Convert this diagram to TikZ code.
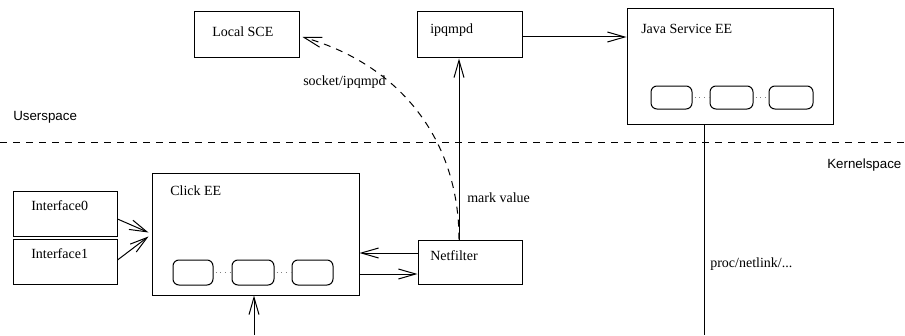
\documentclass[tikz,border=0pt]{standalone}
\usepackage{fontspec}
\setmainfont{Liberation Serif}
\newfontfamily\zonefont{Liberation Sans}
\usetikzlibrary{arrows.meta,calc,fit}

\begin{document}
\begin{tikzpicture}[x=0.75pt,y=-0.75pt,
  box/.style={draw, line width=0.75pt, inner sep=0pt},
  unit/.style={draw, line width=0.75pt, rounded corners=4.5pt, inner sep=0pt},
  lbl/.style={anchor=base west, inner sep=0pt, font=\fontsize{10.5}{12}\selectfont},
  zone/.style={anchor=base west, inner sep=0pt, font=\zonefont\fontsize{10}{12}\selectfont},
  arr/.style={line width=0.75pt, -{Straight Barb[length=13pt,width=7.5pt]}},
  link/.style={line width=0.75pt},
  sep/.style={line width=0.75pt, dash pattern=on 5.25pt off 4.5pt},
  gap/.style={line width=0.7pt, gray, dash pattern=on 0.75pt off 2.8pt, dash phase=-1.5pt}]

\useasboundingbox (0,0) rectangle (905,335);

% user/kernel boundary
\coordinate (sepL) at (0,142);
\coordinate (sepR) at (905,142);
\draw[sep] (sepL) -- (sepR);
\node[zone] (user) at (13,120) {Userspace};
\node[zone] (kernel) at (827,168) {Kernelspace};

% userspace boxes
\node[box, fit={(194,12) (299,58)}] (sce) {};
\node[lbl] (sceT) at (212,37) {Local SCE};
\node[box, fit={(417,12) (522,58)}] (ipq) {};
\node[lbl] (ipqT) at (430,34) {ipqmpd};
\node[box, fit={(627,9) (833,124)}] (java) {};
\node[lbl] (javaT) at (641,34) {Java Service EE};
\node[unit, fit={(651,86) (692,109)}] (ju1) {};
\node[unit, fit={(710,86) (753,109)}] (ju2) {};
\node[unit, fit={(769,86) (813,109)}] (ju3) {};
\draw[gap] (ju1.east) -- (ju2.west);
\draw[gap] (ju2.east) -- (ju3.west);

% kernel boxes
\node[box, fit={(152,173) (359,295)}] (click) {};
\node[lbl] (clickT) at (170,195) {Click EE};
\node[unit, fit={(173,260) (213,285)}] (cu1) {};
\node[unit, fit={(232,260) (274,285)}] (cu2) {};
\node[unit, fit={(292,260) (333,285)}] (cu3) {};
\draw[gap] (cu1.east) -- (cu2.west);
\draw[gap] (cu2.east) -- (cu3.west);

\node[box, fit={(13,191) (117,236)}] (if0) {};
\node[lbl] (if0T) at (31,210) {Interface0};
\node[box, fit={(13,239) (117,284)}] (if1) {};
\node[lbl] (if1T) at (31,258) {Interface1};

\node[box, fit={(418,240) (522,284)}] (net) {};
\node[lbl] (netT) at (430,260) {Netfilter};

% interfaces into Click
\coordinate (cin0) at ($(click.west)+(-3,-1.5)$);
\coordinate (cin1) at ($(click.west)+(-3,2.5)$);
\draw[arr] ($(if0.east)+(0,5.5)$) -- (cin0);
\draw[arr] ($(if1.east)+(0,-1.5)$) -- (cin1);

% Click <-> Netfilter
\coordinate (nfa) at ($(net.west)+(0,-9)$);
\draw[arr] (nfa) -- (nfa -| click.east);
\coordinate (nfb) at ($(net.west)+(0,12)$);
\draw[arr] (nfb -| click.east) -- (nfb);

% Netfilter up to ipqmpd
\coordinate (nfu) at ($(net.north)+(-11,0)$);
\draw[arr] (nfu) -- (nfu |- ipq.south);
\node[lbl] (markT) at (467,202) {mark value};

% ipqmpd to Java
\coordinate (ij) at ($(ipq.east)+(0,2)$);
\draw[arr] (ij) -- (ij -| java.west);

% socket path to Local SCE
\coordinate (sceR) at ($(sce.east)+(3,2)$);
\draw[sep, -{Straight Barb[length=13pt,width=7.5pt]}]
  (nfu) .. controls ($(nfu)+(0,-100)$) and (400,65) .. (sceR);
\node[lbl] (sockT) at (303,85) {socket/ipqmpd};

% lines to the bottom edge
\coordinate (bottom) at (0,335);
\coordinate (jb) at ($(java.south)+(-26,0)$);
\draw[link] (jb) -- (jb |- bottom);
\node[lbl] (procT) at (710,267) {proc/netlink/...};
\coordinate (cb) at ($(click.south)+(-1.5,0)$);
\draw[arr] (cb |- bottom) -- (cb);

\end{tikzpicture}
\end{document}
